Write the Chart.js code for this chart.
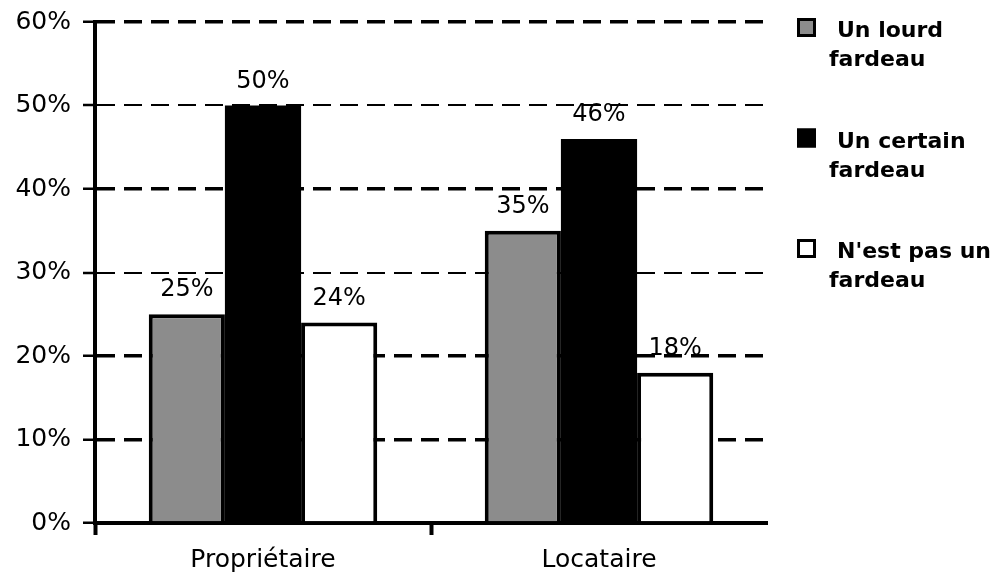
<!DOCTYPE html>
<html>
<head>
<meta charset="utf-8">
<script src="https://cdn.jsdelivr.net/npm/chart.js@4.4.1/dist/chart.umd.min.js"></script>
<style>
  html, body { margin: 0; padding: 0; background: #fff; }
  #wrap { width: 992px; height: 576px; }
</style>
</head>
<body>
<div id="wrap"><canvas id="chart" width="992" height="576"></canvas></div>
<script>
// Categories and series (percent of respondents)
const categories = ['Propriétaire', 'Locataire'];
const seriesNames = [['Un lourd', 'fardeau'], ['Un certain', 'fardeau'], ["N'est pas un", 'fardeau']];
const lourdFardeau = [25, 35];
const certainFardeau = [50, 46];
const pasUnFardeau = [24, 18];
const yMax = 60;
const yStep = 10;

const FONT = '"DejaVu Sans", "Liberation Sans", sans-serif';
const seriesValues = [lourdFardeau, certainFardeau, pasUnFardeau];
const seriesFills = ['#8c8c8c', '#000000', '#ffffff'];
const seriesBorders = [4, 0, 4];

// Percent labels above each bar
const valueLabels = {
  id: 'valueLabels',
  afterDatasetsDraw(chart) {
    const ctx = chart.ctx;
    ctx.save();
    ctx.font = '24px ' + FONT;
    ctx.fillStyle = '#000';
    ctx.textAlign = 'center';
    ctx.textBaseline = 'alphabetic';
    chart.data.datasets.forEach((ds, i) => {
      chart.getDatasetMeta(i).data.forEach((bar, j) => {
        ctx.fillText(ds.data[j] + '%', bar.x, bar.y - 18);
      });
    });
    ctx.restore();
  }
};

// Legend on the right, two lines per entry
const sideLegend = {
  id: 'sideLegend',
  afterDraw(chart) {
    const ctx = chart.ctx;
    ctx.save();
    ctx.font = 'bold 22px ' + FONT;
    ctx.textAlign = 'left';
    ctx.textBaseline = 'alphabetic';
    const left = chart.chartArea.right + 30;
    chart.data.datasets.forEach((ds, i) => {
      const base = 37 + i * 110.5;
      const s = 19;
      ctx.fillStyle = ds.backgroundColor;
      ctx.fillRect(left, base - s, s, s);
      ctx.lineWidth = 3;
      ctx.strokeStyle = '#000';
      ctx.strokeRect(left + 1.5, base - s + 1.5, s - 3, s - 3);
      ctx.fillStyle = '#000';
      ds.legendLines.forEach((line, k) => {
        ctx.fillText(line, left + (k === 0 ? 40 : 32), base + k * 29);
      });
    });
    ctx.restore();
  }
};

const datasets = seriesNames.map((lines, i) => ({
  label: lines.join(' '),
  legendLines: lines,
  data: seriesValues[i],
  backgroundColor: seriesFills[i],
  borderColor: '#000',
  borderWidth: seriesBorders[i],
  barPercentage: 1.0,
  categoryPercentage: 0.68
}));

new Chart(document.getElementById('chart'), {
  type: 'bar',
  data: { labels: categories, datasets },
  plugins: [valueLabels, sideLegend],
  options: {
    responsive: false,
    animation: false,
    layout: { padding: { top: 22, right: 225, bottom: 0, left: 0 } },
    plugins: {
      legend: { display: false },
      tooltip: { enabled: false }
    },
    scales: {
      x: {
        afterFit(scale) { scale.height = 53; },
        grid: {
          drawOnChartArea: false,
          drawTicks: true,
          tickLength: 12,
          tickWidth: 4,
          tickColor: (c) => (c.index === undefined ? 'rgba(0,0,0,0)' : '#000')
        },
        border: { display: true, color: '#000', width: 4 },
        ticks: {
          color: '#000',
          padding: 10,
          font: { family: FONT, size: 25 }
        }
      },
      y: {
        min: 0,
        max: yMax,
        afterFit(scale) {
          scale.width = 95;
          scale.paddingTop = 0;
          scale.paddingBottom = 0;
        },
        grid: {
          color: (c) => (c.tick && c.tick.value === 0 ? 'rgba(0,0,0,0)' : '#000'),
          lineWidth: (c) => (c.tick && (c.tick.value === 30 || c.tick.value === 50) ? 2 : 3.5),
          drawTicks: true,
          tickLength: 12,
          tickColor: '#000',
          tickWidth: 2.5,
          tickBorderDash: []
        },
        border: { display: true, color: '#000', width: 4, dash: [18, 9] },
        ticks: {
          stepSize: yStep,
          color: '#000',
          padding: 12,
          font: { family: FONT, size: 25 },
          callback: (v) => v + '%'
        }
      }
    }
  }
});
</script>
</body>
</html>
